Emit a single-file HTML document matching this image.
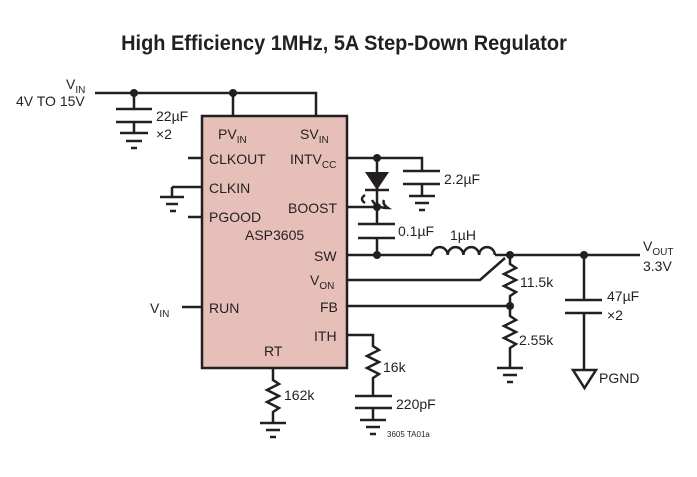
<!DOCTYPE html>
<html><head><style>
body{margin:0;background:#fff;width:697px;height:472px;overflow:hidden}
svg text{font-family:"Liberation Sans",sans-serif;fill:#231f20}
</style></head><body>
<svg width="697" height="472" viewBox="0 0 697 472" xmlns="http://www.w3.org/2000/svg">
<text x="344" y="50" text-anchor="middle" font-size="21" font-weight="bold" transform="translate(344 0) scale(0.95 1) translate(-344 0)">High Efficiency 1MHz, 5A Step-Down Regulator</text>
<rect x="202" y="116" width="145" height="252" fill="#e6c0b8" stroke="#231f20" stroke-width="2.5"/>
<g stroke="#231f20" stroke-width="2.5" fill="none">
<path d="M95 93H316V116M233 93V116M134 93V109"/>
<path d="M116 109H152M116 122H152M134 122V133M120 133H148M126 141H142M131 148H137"/>
<path d="M188 158H202M172 187H202M172 187V197M160 197H184M166 204H178M170 211H176M188 217H202M182 307H202"/>
<path d="M347 158H422V171M403 171H440M403 184H440M422 184V196M409 196H435M415 203H429M419 210H425"/>
<path d="M377 158V207M347 207H377M377 207V224M358 224H395M358 238H395M377 238V255"/>
<path d="M347 255H432M495 255H640"/>
<path d="M432 255a7.8 7.8 0 0 1 15.7 0a7.8 7.8 0 0 1 15.7 0a7.8 7.8 0 0 1 15.7 0a7.8 7.8 0 0 1 15.7 0"/>
<path d="M347 280H480L505 258"/>
<path d="M510 255V264l6 4-12 6 12 6-12 6 12 6-6 4V306"/>
<path d="M347 306H510V316l6 4-12 6 12 6-12 6 12 6-6 4V368M497 368H523M503 375H517M507 382H513"/>
<path d="M584 255V300M565 300H602M565 313H602M584 313V370M573 370H596L584.5 388Z"/>
<path d="M347 335H373V346l6 4-12 6 12 6-12 6 12 6-6 4V396M355 396H392M355 408H392M373 408V420M360 420H386M366 427H380M370 434H376"/>
<path d="M273 368V380l6 4-12 6 12 6-12 6 12 6-6 4V423M260 423H286M266 430H280M270 437H276"/>
<path d="M365 195q-6 4 0 8M372 200q4 8 16 8q-6-4-4-8"/>
</g>
<path d="M365 172H389L377 190Z" fill="#231f20"/>
<path d="M365 190H389" stroke="#231f20" stroke-width="2.5"/>
<g fill="#231f20">
<circle cx="134" cy="93" r="4"/><circle cx="233" cy="93" r="4"/>
<circle cx="377" cy="158" r="4"/><circle cx="377" cy="207" r="4"/><circle cx="377" cy="255" r="4"/>
<circle cx="510" cy="255" r="4"/><circle cx="584" cy="255" r="4"/><circle cx="510" cy="306" r="4"/>
</g>
<g font-size="14">
<text x="66" y="89">V<tspan font-size="10" dy="4">IN</tspan></text>
<text x="16" y="106">4V TO 15V</text>
<text x="156" y="121">22µF</text><text x="156" y="139">×2</text>
<text x="218" y="139">PV<tspan font-size="10" dy="4">IN</tspan></text>
<text x="300" y="139">SV<tspan font-size="10" dy="4">IN</tspan></text>
<text x="209" y="164">CLKOUT</text>
<text x="290" y="164">INTV<tspan font-size="10" dy="4">CC</tspan></text>
<text x="209" y="193">CLKIN</text>
<text x="209" y="222">PGOOD</text>
<text x="288" y="213">BOOST</text>
<text x="245" y="240">ASP3605</text>
<text x="314" y="261">SW</text>
<text x="310" y="285">V<tspan font-size="10" dy="4">ON</tspan></text>
<text x="320" y="312">FB</text>
<text x="314" y="341">ITH</text>
<text x="209" y="313">RUN</text>
<text x="150" y="313">V<tspan font-size="10" dy="4">IN</tspan></text>
<text x="264" y="356">RT</text>
<text x="444" y="184">2.2µF</text>
<text x="398" y="236">0.1µF</text>
<text x="450" y="240">1µH</text>
<text x="643" y="251">V<tspan font-size="10" dy="4">OUT</tspan></text>
<text x="643" y="271">3.3V</text>
<text x="520" y="287">11.5k</text>
<text x="607" y="301">47µF</text><text x="607" y="320">×2</text>
<text x="519" y="345">2.55k</text>
<text x="599" y="383">PGND</text>
<text x="383" y="372">16k</text>
<text x="284" y="400">162k</text>
<text x="396" y="409">220pF</text>
</g>
<text x="387" y="437" font-size="8">3605 TA01a</text>
</svg>
</body></html>
